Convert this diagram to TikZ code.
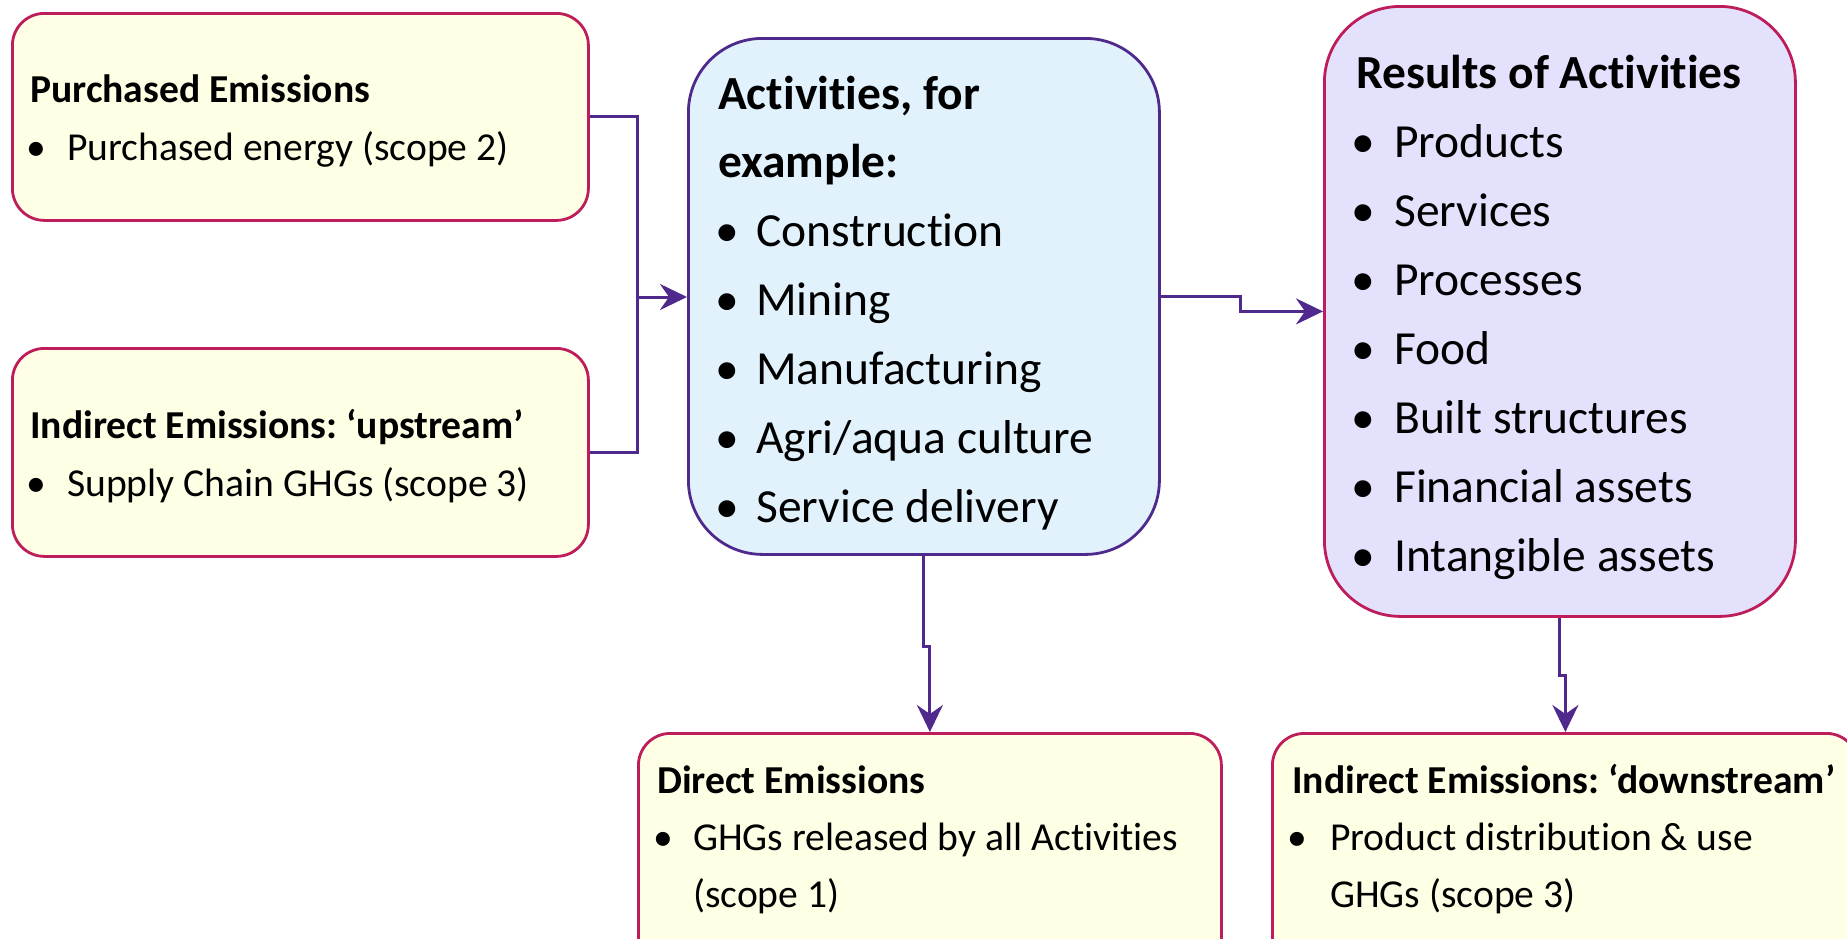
\documentclass[tikz,border=0pt]{standalone}
\usepackage{fontspec}
\setmainfont{Carlito}[Ligatures=NoCommon]
\frenchspacing
\usetikzlibrary{arrows.meta}

\definecolor{edgeRed}{HTML}{BE1D5C}
\definecolor{edgeViolet}{HTML}{4F2A8C}
\definecolor{fillCream}{HTML}{FFFFE5}
\definecolor{fillSky}{HTML}{E1F2FD}
\definecolor{fillLav}{HTML}{E3E1FC}

\tikzset{
  emitbox/.style={draw=edgeRed, line width=2.8pt, fill=fillCream,
    rounded corners=32pt, anchor=north west, inner sep=0pt},
  actbox/.style={draw=edgeViolet, line width=2.8pt, fill=fillSky,
    rounded corners=74pt, anchor=north west, inner sep=0pt},
  resbox/.style={draw=edgeRed, line width=2.8pt, fill=fillLav,
    rounded corners=76pt, anchor=north west, inner sep=0pt},
  conn/.style={draw=edgeViolet, line width=3pt},
  tip/.style={-{Stealth[length=27pt, width=26pt, inset=9pt]}},
  txt/.style={inner sep=0pt, anchor=base west},
  bulletdot/.style={inner sep=0pt, anchor=base},
  small/.style={font=\fontsize{39.6}{58}\selectfont},
  smallbf/.style={font=\fontsize{39.6}{58}\selectfont\bfseries},
  large/.style={font=\fontsize{47.5}{69}\selectfont},
  largebf/.style={font=\fontsize{47.5}{69}\selectfont\bfseries},
}

\begin{document}
\begin{tikzpicture}[x=1pt, y=-1pt]
\useasboundingbox (0,0) rectangle (1847,938);
\clip (0,0) rectangle (1847,938);

% boxes
\node[emitbox, minimum width=576pt, minimum height=207pt] (purch) at (11,12) {};
\node[emitbox, minimum width=576pt, minimum height=208pt] (upstr) at (11,347) {};
\node[actbox, minimum width=471pt, minimum height=516pt] (activ) at (687,37) {};
\node[resbox, minimum width=471pt, minimum height=610pt] (result) at (1323,5) {};
\node[emitbox, minimum width=583pt, minimum height=270pt] (direct) at (637,732) {};
\node[emitbox, minimum width=586pt, minimum height=270pt] (downstr) at (1271,732) {};

% connectors
\coordinate (join) at (637,297);
\coordinate (stepA) at (1240,0);
\draw[conn] (purch.east) -| (join);
\draw[conn] (upstr.east) -| (join);
\draw[conn, tip] (join) -- (join -| activ.west);
\draw[conn, tip] (activ.east) -- (activ.east -| stepA) |- (result.west);
\draw[conn, tip] (activ.south) -- ++(0,91) -| (direct.north);
\draw[conn, tip] (result.south) -- ++(0,58) -| (downstr.north);

% Purchased emissions
\node[txt, smallbf] (purchH) at (30,102.5) {Purchased Emissions};
\node[bulletdot, small] (purchD) at (36,160.5) {•};
\node[txt, small] (purchT) at (67,160.5) {Purchased energy (scope 2)};

% Upstream emissions
\node[txt, smallbf] (upstrH) at (30,438) {Indirect Emissions: ‘upstream’};
\node[bulletdot, small] (upstrD) at (36,496) {•};
\node[txt, small] (upstrT) at (67,496) {Supply Chain GHGs (scope 3)};

% Activities
\node[txt, largebf] (activH1) at (718,109) {Activities, for};
\node[txt, largebf] (activH2) at (718,177) {example:};
\foreach \y/\t [count=\i] in {246/Construction, 315/Mining, 384/Manufacturing,
    453/{Agri/aqua culture}, 522/Service delivery} {
  \node[bulletdot, large] (activD\i) at (727,\y) {•};
  \node[txt, large] (activT\i) at (756,\y) {\t};
}

% Results
\node[txt, largebf] (resultH) at (1356,88) {Results of Activities};
\foreach \y/\t [count=\i] in {157/Products, 226/Services, 295/Processes,
    364/Food, 433/Built structures, 502/Financial assets, 571/Intangible assets} {
  \node[bulletdot, large] (resultD\i) at (1363,\y) {•};
  \node[txt, large] (resultT\i) at (1394,\y) {\t};
}

% Direct emissions
\node[txt, smallbf] (directH) at (657,793) {Direct Emissions};
\node[bulletdot, small] (directD) at (663,850) {•};
\node[txt, small] (directT1) at (693,850) {GHGs released by all Activities};
\node[txt, small] (directT2) at (693,907) {(scope 1)};

% Downstream emissions
\node[txt, smallbf] (downH) at (1292,793) {Indirect Emissions: ‘downstream’};
\node[bulletdot, small] (downD) at (1297,850) {•};
\node[txt, small] (downT1) at (1330,850) {Product distribution \& use};
\node[txt, small] (downT2) at (1330,907) {GHGs (scope 3)};
\end{tikzpicture}
\end{document}
